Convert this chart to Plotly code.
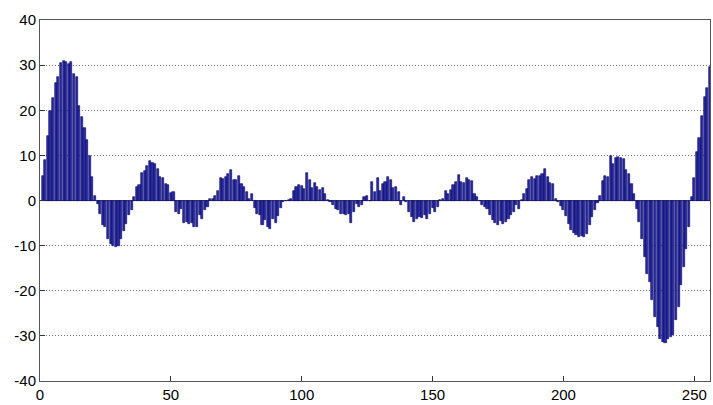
import plotly.graph_objects as go

# sample index 1..256
index = list(range(1, 257))

values = [
    5.4, 9.0, 14.4, 19.9, 22.8, 26.0, 27.4, 30.5, 31.0, 30.6,
    30.2, 30.7, 28.0, 27.4, 20.9, 18.6, 16.0, 13.5, 9.9, 5.1,
    1.0, -0.8, -3.0, -5.4, -5.9, -8.5, -9.6, -10.0, -10.3, -10.0,
    -8.5, -6.7, -5.2, -3.3, -2.2, 0.7, 2.9, 3.5, 6.2, 6.6,
    7.7, 8.8, 8.4, 8.0, 7.0, 5.1, 4.9, 3.6, 3.5, 1.6,
    1.8, -2.6, -3.0, -1.9, -5.0, -4.8, -5.1, -5.0, -5.9, -5.9,
    -3.3, -4.0, -2.2, -1.5, 0.3, 0.4, 1.1, 2.2, 5.0, 4.7,
    5.1, 5.8, 6.7, 4.5, 4.5, 5.5, 3.6, 3.1, 1.8, 0.4,
    1.4, -1.6, -3.0, -3.3, -5.5, -4.4, -5.9, -6.3, -4.0, -5.0,
    -3.5, -1.6, -0.3, -0.1, 0.1, 0.3, 2.0, 3.0, 3.5, 3.3,
    2.5, 6.0, 4.6, 2.8, 3.9, 2.9, 2.3, 2.8, 1.4, 0.1,
    -0.4, -1.0, -1.8, -2.2, -3.0, -3.1, -3.3, -3.1, -5.0, -2.6,
    -0.8, -1.4, -1.1, 0.7, 0.9, 0.0, 4.0, 1.8, 4.9, 2.2,
    3.6, 4.2, 5.3, 4.6, 2.8, 3.1, 1.8, -1.1, 0.7, -0.4,
    -2.6, -3.6, -4.8, -4.1, -3.6, -3.9, -3.3, -4.0, -3.0, -1.7,
    -2.6, -1.4, 0.05, 0.3, 2.2, 1.4, 2.3, 3.5, 4.0, 5.7,
    4.0, 3.9, 4.9, 4.5, 4.3, 1.5, 0.8, -0.2, -0.9, -1.4,
    -1.8, -3.3, -4.3, -4.9, -5.5, -4.5, -5.3, -4.8, -4.2, -3.3,
    -2.5, -0.9, -1.9, 0.1, 1.4, 2.5, 4.5, 5.3, 4.8, 5.5,
    5.5, 5.9, 7.0, 5.1, 3.8, 3.7, 0.3, -0.3, -1.2, -2.0,
    -3.5, -5.3, -6.6, -7.2, -7.6, -8.0, -7.8, -8.0, -7.5, -5.5,
    -3.7, -2.2, -0.6, 1.1, 4.4, 5.5, 5.3, 9.9, 8.1, 9.5,
    9.7, 9.4, 9.2, 6.7, 5.8, 3.6, 1.4, -1.9, -4.8, -8.5,
    -12.5, -16.2, -18.0, -22.0, -25.8, -28.0, -30.6, -31.3, -31.6, -30.6,
    -30.2, -29.8, -26.5, -23.5, -18.8, -14.7, -10.7, -5.9, 0.8, 5.0,
    10.8, 13.9, 18.7, 22.9, 25.0, 29.5,
]

x_ticks = [0, 50, 100, 150, 200, 250]
y_ticks = [-40, -30, -20, -10, 0, 10, 20, 30, 40]
y_tick_labels = ["-40", "-30", "-20", "-10", "0", "10", "20", "30", "40"]

fig = go.Figure()
fig.add_trace(go.Bar(
    x=index, y=values,
    marker=dict(color="#2b2b9c", line=dict(color="#00006e", width=0.6)),
    width=0.8,
))

font = dict(family="Liberation Sans, Arial, sans-serif", size=15, color="#000000")

fig.update_layout(
    width=713, height=405,
    margin=dict(l=40, r=2, t=20, b=22),
    paper_bgcolor="white", plot_bgcolor="white",
    showlegend=False,
    font=font,
    bargap=0,
)
fig.update_xaxes(
    range=[0, 256], tickmode="array", tickvals=x_ticks,
    ticks="inside", ticklen=5, tickcolor="#333",
    showline=True, linecolor="#555", linewidth=1, mirror=True,
    showgrid=False, zeroline=False, tickfont=font,
)
fig.update_yaxes(
    range=[-40, 40], tickmode="array", tickvals=y_ticks, ticktext=y_tick_labels,
    ticks="inside", ticklen=5, tickcolor="#333",
    showline=True, linecolor="#555", linewidth=1, mirror=True,
    showgrid=True, gridcolor="#777777", griddash="1px,2px", gridwidth=1,
    zeroline=True, zerolinecolor="#555", zerolinewidth=1,
    tickfont=font,
)

fig.write_html("out.html")
